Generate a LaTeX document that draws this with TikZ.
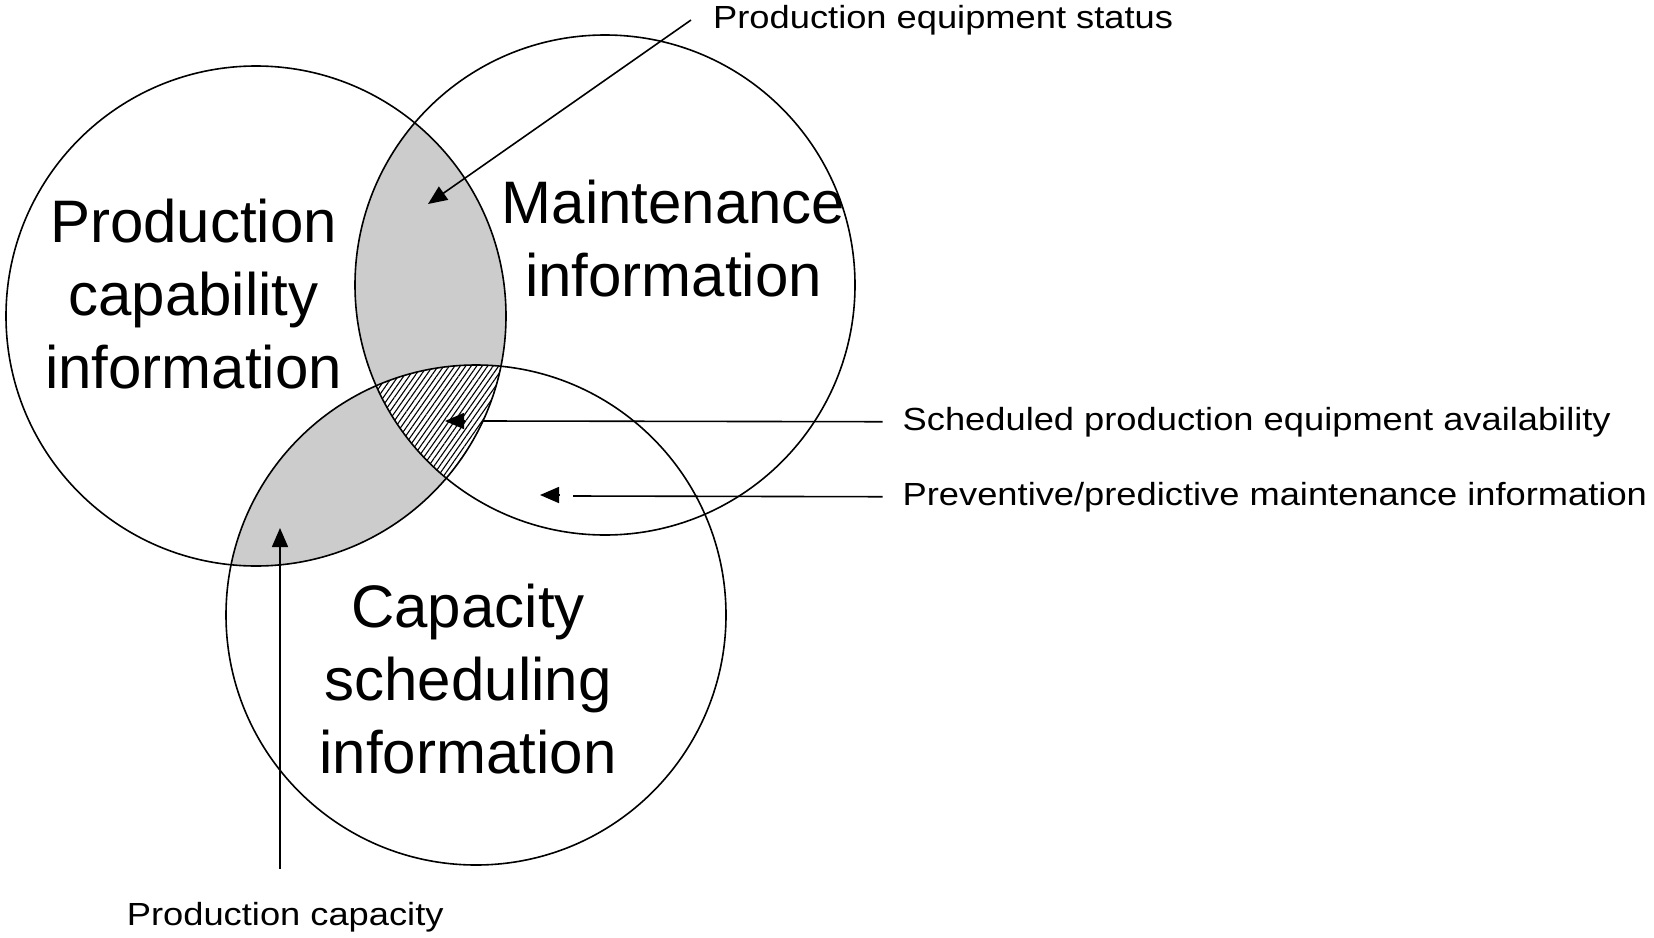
\documentclass[tikz,border=0pt]{standalone}
\usepackage{fontspec}
\setmainfont{Liberation Sans}
\newfontfamily\lblfont[FakeStretch=1.134]{Liberation Sans}
\usetikzlibrary{arrows.meta,patterns.meta}
\definecolor{overlapgray}{gray}{0.8}
\begin{document}
\begin{tikzpicture}[x=1pt,y=1pt,
  ring/.style={draw=black,line width=1.6pt},
  conn/.style={draw=black,line width=1.6pt},
  tipped/.style={-{Triangle[length=19pt,width=16pt]}},
  big/.style={align=center,font=\fontsize{60}{73}\selectfont,inner sep=0pt},
  lbl/.style={font=\lblfont\fontsize{32}{38}\selectfont,inner ysep=0pt,inner xsep=20pt,anchor=base west}]
\useasboundingbox[fill=white] (0,0) rectangle (1654,-937);
\coordinate (cA) at (256,-316);
\coordinate (cB) at (605,-285);
\coordinate (cC) at (476,-615);
% gray overlaps
\begin{scope}
  \clip (cA) circle (250);
  \fill[overlapgray] (cB) circle (250);
  \fill[overlapgray] (cC) circle (250);
\end{scope}
\begin{scope}
  \clip (cA) circle (250);
  \clip (cB) circle (250);
  \fill[white] (cC) circle (250);
  \fill[pattern={Lines[angle=55,distance=4.5pt,line width=1.1pt]}] (cC) circle (250);
\end{scope}
% circles
\draw[ring] (cA) circle (250);
\draw[ring] (cB) circle (250);
\draw[ring] (cC) circle (250);
% big texts
\node[big] (pc) at (193.5,-294.5) {Production\\capability\\information};
\node[big] (mi) at (673.5,-238.3) {Maintenance\\information};
\node[big] (cs) at (468,-679.3) {Capacity\\scheduling\\information};
% labels
\node[lbl,inner xsep=22pt] (pes) at (691,-28.3) {Production equipment status};
\node[lbl] (spa) at (882.5,-430) {Scheduled production equipment availability};
\node[lbl] (ppm) at (882.5,-505) {Preventive/predictive maintenance information};
\node[lbl,inner xsep=0pt,inner ysep=33pt] (pcap) at (126.7,-925) {Production capacity};
% connectors
\coordinate (pesTip) at (428,-204);
\draw[conn,tipped] (pes.west) -- (pesTip);
\coordinate (capTip) at (280,-528);
\draw[conn,tipped] (capTip |- pcap.north) -- (capTip);
\coordinate (spaEdge) at (483,-421);
\coordinate (spaBase) at (464,-421);
\coordinate (spaTip) at (445,-421);
\draw[conn] (spa.west) -- (spaEdge);
\draw[conn,tipped] (spaBase) -- (spaTip);
\coordinate (ppmStart) at (573,-496);
\coordinate (ppmBase) at (559,-495);
\coordinate (ppmTip) at (540,-495);
\draw[conn] (ppm.west) -- (ppmStart);
\draw[conn,tipped] (ppmBase) -- (ppmTip);
\end{tikzpicture}
\end{document}
